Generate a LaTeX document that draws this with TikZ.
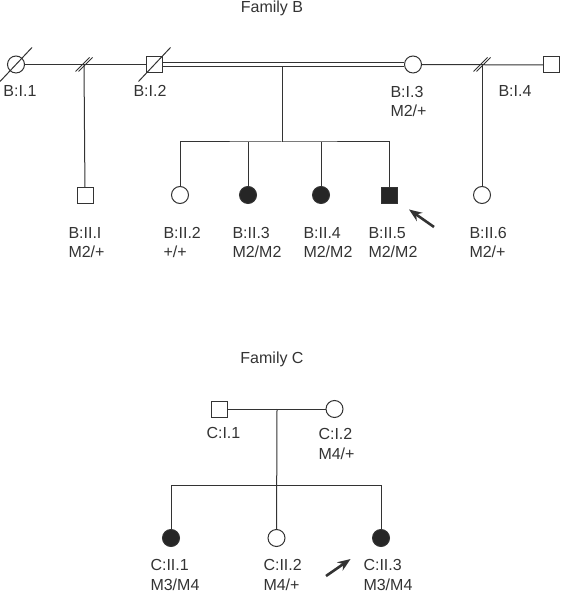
\documentclass[tikz,border=0pt]{standalone}
\usepackage{fontspec}
\setmainfont{Liberation Sans}
\usetikzlibrary{arrows.meta, positioning}

\tikzset{
  male/.style={draw, rectangle, minimum size=8pt, inner sep=0pt},
  female/.style={draw, circle, minimum size=8.5pt, inner sep=0pt},
  affected/.style={fill=black!85},
  lbl/.style={anchor=base west, inner sep=0pt, align=left},
  proband/.style={line width=1.3pt, -{Stealth[length=6.5pt, width=5pt]}}
}

\begin{document}
\begin{tikzpicture}[x=0.5pt, y=-0.5pt, color=black!80, line width=0.5pt,
    font=\fontsize{8}{9.8}\selectfont]
    \useasboundingbox (0,0) rectangle (561,597);

    % Family B
    \node[anchor=base, inner sep=0pt] (titleB) at (272,13) {Family B};

    \node[female] at (16,64.5)    (bI1) {};
    \node[male]   at (154.5,64.5) (bI2) {};
    \node[female] at (413,64.5)   (bI3) {};
    \node[male]   at (551.5,65)   (bI4) {};

    \node[male]             at (85,195.5)  (bII1) {};
    \node[female]           at (180,195)   (bII2) {};
    \node[female, affected] at (248,195)   (bII3) {};
    \node[female, affected] at (321,195)   (bII4) {};
    \node[male, affected]   at (389,195.5) (bII5) {};
    \node[female]           at (482,195)   (bII6) {};

    \coordinate (bbrk1) at (84,64.5);
    \coordinate (bbrk2) at (482,64.5);
    \coordinate (bmate) at (282,66.7);
    \coordinate (bsib)  at (282,142);

    \draw (bI1) -- (bI2);
    \draw[double, double distance=1.5pt] (bI2) -- (bI3);
    \draw (bI3) -- (bI4);
    \draw (bbrk1) -- (bII1);
    \draw (bbrk2) -- (bII6);
    \foreach \c in {bbrk1, bbrk2} {
        \foreach \d in {-1.5, 1.5} {
            \draw ([shift={(\d-7,7)}]\c) -- ([shift={(\d+7,-7)}]\c);
        };
    };
    \foreach \n in {bI1, bI2} {
        \draw ([shift={(-16,17)}]\n.center) -- ([shift={(16,-17)}]\n.center);
    };
    \draw (bmate) -- (bsib);
    \draw (bII2) |- (bsib) -| (bII5);
    \draw (bII3) -- (bII3 |- bsib);
    \draw (bII4) -- (bII4 |- bsib);

    % base of a two-line label is its last line
    \node[lbl] at (3,97)   (lbI1) {B:I.1};
    \node[lbl] at (133,97) (lbI2) {B:I.2};
    \node[lbl] at (390,117) (lbI3) {B:I.3\\M2/+};
    \node[lbl] at (498,97) (lbI4) {B:I.4};
    \node[lbl] at (68,258)  (lbII1) {B:II.I\\M2/+};
    \node[lbl] at (163,258) (lbII2) {B:II.2\\+/+};
    \node[lbl] at (232,258) (lbII3) {B:II.3\\M2/M2};
    \node[lbl] at (303,258) (lbII4) {B:II.4\\M2/M2};
    \node[lbl] at (368,258) (lbII5) {B:II.5\\M2/M2};
    \node[lbl] at (469,258) (lbII6) {B:II.6\\M2/+};

    \coordinate (barrow) at (434,227);
    \draw[proband, shorten >=7pt] (barrow) -- (bII5);

    % Family C
    \node[anchor=base, inner sep=0pt] (titleC) at (272,363) {Family C};

    \node[male]   at (219,409)   (cI1) {};
    \node[female] at (334.5,409) (cI2) {};

    \node[female, affected] at (171,538)   (cII1) {};
    \node[female]           at (276.5,538) (cII2) {};
    \node[female, affected] at (381,538)   (cII3) {};

    \coordinate (cmate) at (277,409);
    \coordinate (csib)  at (277,485.5);

    \draw (cI1) -- (cI2);
    \draw (cmate) -- (cII2);
    \draw (cII1) |- (csib) -| (cII3);

    \node[lbl] at (206,438) (lcI1) {C:I.1};
    \node[lbl] at (318,459) (lcI2) {C:I.2\\M4/+};
    \node[lbl] at (150,590) (lcII1) {C:II.1\\M3/M4};
    \node[lbl] at (263,590) (lcII2) {C:II.2\\M4/+};
    \node[lbl] at (363,590) (lcII3) {C:II.3\\M3/M4};

    \coordinate (carrow) at (326,576);
    \draw[proband, shorten >=14pt] (carrow) -- (cII3);
\end{tikzpicture}
\end{document}
